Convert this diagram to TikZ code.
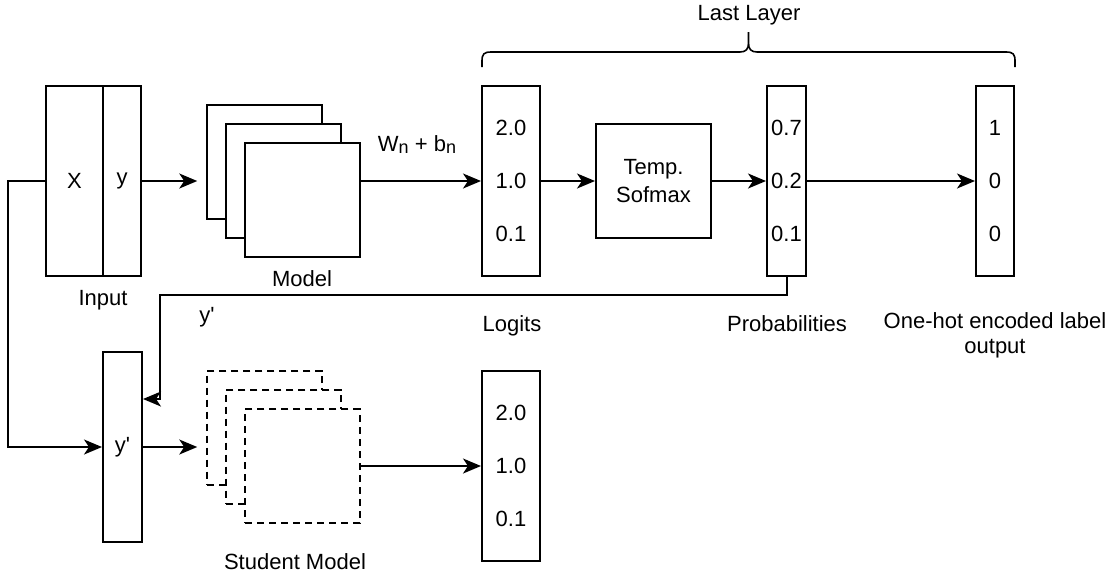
\documentclass[tikz,border=0pt]{standalone}
\usepackage{fontspec}
\setmainfont{Liberation Sans}
\usetikzlibrary{arrows.meta}
\begin{document}
\begin{tikzpicture}[x=0.5pt,y=-0.5pt,
  box/.style={draw, line width=1pt, fill=white, inner sep=0pt},
  dbox/.style={box, dash pattern=on 3.5pt off 2.5pt},
  stackbox/.style={minimum width=57.25pt, minimum height=57pt},
  colbox/.style={minimum height=95pt, align=center, font=\fontsize{11}{26.5}\selectfont},
  arr/.style={line width=1pt, -{Stealth[length=9pt,width=7.5pt,inset=2.5pt]}},
  conn/.style={line width=1pt},
  lbl/.style={font=\fontsize{11}{12.5}\selectfont, inner sep=0pt, anchor=base},
]
\useasboundingbox (0,0) rectangle (1112,575);

% Input
\node[box, minimum width=28.5pt, minimum height=95pt, font=\fontsize{11}{13}\selectfont] (inX) at (74.5,181) {X};
\node[box, minimum width=19pt, minimum height=95pt, font=\fontsize{11}{13}\selectfont] (inY) at (122,181) {y};
\node[lbl] (lInput) at (103,305) {Input};

% Teacher model stack
\node[box, stackbox] (Mb) at (264.5,161.5) {};
\node[box, stackbox] (Mm) at (283.5,180.5) {};
\node[box, stackbox] (Mf) at (302.5,199.5) {};
\node[lbl] (lModel) at (302,286) {Model};

% Logits
\node[box, colbox, minimum width=29pt] (L1) at (511,181) {2.0\\1.0\\0.1};
\node[lbl] (lW) at (417,151) {W\raisebox{-0.2ex}{\fontsize{9}{10}\selectfont n} + b\raisebox{-0.2ex}{\fontsize{9}{10}\selectfont n}};
\node[lbl] (lLogits) at (512,331) {Logits};

% Temp softmax
\node[box, minimum width=57.5pt, minimum height=57pt, align=center, font=\fontsize{11}{14}\selectfont] (T) at (653.5,181) {Temp.\\Sofmax};

% Probabilities
\node[box, colbox, minimum width=19.5pt] (P) at (786.5,181) {0.7\\0.2\\0.1};
\node[lbl] (lProb) at (787,331) {Probabilities};

% One-hot
\node[box, colbox, minimum width=19pt] (O) at (995,181) {1\\0\\0};
\node[lbl, anchor=north, align=center, font=\fontsize{11}{12.5}\selectfont] (lOne) at (995,312) {One-hot encoded label\\output};

% Brace
\coordinate (brL) at (482,67);
\coordinate (brR) at (1015,67);
\draw[conn, line width=0.8pt] (brL) -- (482,61) .. controls (482,54) and (484,52) .. (491,52) -- (740,52)
  .. controls (746,52) and (748.5,49) .. (748.5,43) -- (748.5,32)
  (748.5,43) .. controls (748.5,49) and (751,52) .. (757,52) -- (1006,52)
  .. controls (1013,52) and (1015,54) .. (1015,61) -- (brR);
\node[lbl] (lLast) at (749,20) {Last Layer};

% Student side
\node[box, minimum width=19.5pt, minimum height=95pt, font=\fontsize{11}{13}\selectfont] (S1) at (122.5,447) {y\textquotesingle};
\node[lbl] (lYp) at (207,322) {y\textquotesingle};

\node[dbox, stackbox] (Sb) at (264.5,427.5) {};
\node[dbox, stackbox] (Sm) at (283.5,446.5) {};
\node[dbox, stackbox] (Sf) at (302.5,466) {};
\node[lbl] (lStudent) at (295,569) {Student Model};

\node[box, colbox, minimum width=29pt] (L2) at (511,466) {2.0\\1.0\\0.1};

% Connectors
\draw[arr, shorten >=4.5pt] (inY.east) -- (inY.east -| Mb.west);
\draw[arr] (L1.west -| Mf.east) -- (L1.west);
\draw[arr] (L1.east) -- (T.west);
\draw[arr] (T.east) -- (P.west);
\draw[arr] (P.east) -- (O.west);

\coordinate (fb) at (160,295);
\draw[arr] (P.south) |- (fb) |- ([yshift=24pt]S1.east);

\coordinate (lc) at (8,181);
\draw[arr] (inX.west) -- (lc) |- (S1.west);

\draw[arr, shorten >=4.5pt] (S1.east) -- (S1.east -| Sb.west);
\draw[arr] (L2.west -| Sf.east) -- (L2.west);
\end{tikzpicture}
\end{document}
